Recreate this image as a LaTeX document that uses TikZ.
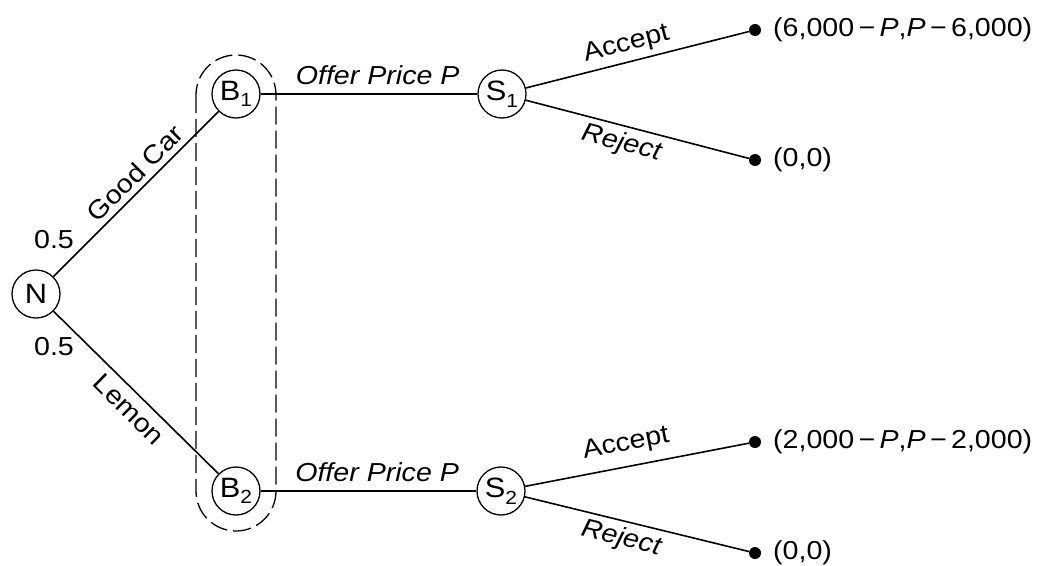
\documentclass[tikz,border=0pt]{standalone}
\usepackage{fontspec}
\setmainfont{Liberation Sans}[FakeStretch=1.1]
\newcommand{\gross}{\fontsize{26}{31}\selectfont}
\newcommand{\kreis}{\fontsize{28}{33}\selectfont}
\newcommand{\tief}[1]{\raisebox{-0.45ex}{\fontsize{19}{19}\selectfont #1}}

\begin{document}
\begin{tikzpicture}[x=1pt,y=-1pt,
  knoten/.style={draw,circle,line width=1.3pt,minimum size=48pt,inner sep=0,font=\kreis},
  kante/.style={line width=1.6pt},
  zug/.style={inner sep=0,sloped,font=\gross},
  punkt/.style={circle,fill,inner sep=0,minimum size=12pt},
  auszahlung/.style={anchor=west,inner sep=0,font=\gross},
  wkeit/.style={inner sep=0,font=\gross},
  info/.style={line width=1.3pt,dash pattern=on 18pt off 6pt,rounded corners=40pt}]
\useasboundingbox (0,0) rectangle (1044,565);
\node[knoten] (n) at (36,294) {N};
\node[knoten] (b1) at (236,94) {B\tief{1}};
\node[knoten] (b2) at (236,491) {B\tief{2}};
\node[knoten] (s1) at (502,94) {S\tief{1}};
\node[knoten] (s2) at (501,491) {S\tief{2}};
\node[punkt] (a1) at (755,30) {};
\node[punkt] (r1) at (755,160) {};
\node[punkt] (a2) at (755,442) {};
\node[punkt] (r2) at (755,553) {};
\node[auszahlung] (pa1) at ([xshift=18pt]a1.center) {(6,000\,−\,\textit{P},\textit{P}\,−\,6,000)};
\node[auszahlung] (pr1) at ([xshift=18pt]r1.center) {(0,0)};
\node[auszahlung] (pa2) at ([xshift=18pt]a2.center) {(2,000\,−\,\textit{P},\textit{P}\,−\,2,000)};
\node[auszahlung] (pr2) at ([xshift=18pt]r2.center) {(0,0)};
\node[wkeit] (w1) at (54,240) {0.5};
\node[wkeit] (w2) at (54,347) {0.5};
\draw[info] (196,55) rectangle (276,531);
\draw[kante] (n) -- node[zug,pos=0.56,above=5pt] {Good Car} (b1);
\draw[kante] (n) -- node[zug,pos=0.53,below=7pt] {Lemon} (b2);
\draw[kante] (b1) -- node[zug,pos=0.54,above=8pt] {\textit{Offer Price P}} (s1);
\draw[kante] (b2) -- node[zug,pos=0.54,above=8pt] {\textit{Offer Price P}} (s2);
\draw[kante] (s1) -- node[zug,pos=0.47,above=5pt] {Accept} (a1);
\draw[kante] (s1) -- node[zug,pos=0.45,below=5pt] {\textit{Reject}} (r1);
\draw[kante] (s2) -- node[zug,pos=0.47,above=10pt] {Accept} (a2);
\draw[kante] (s2) -- node[zug,pos=0.45,below=5pt] {\textit{Reject}} (r2);
\end{tikzpicture}
\end{document}
